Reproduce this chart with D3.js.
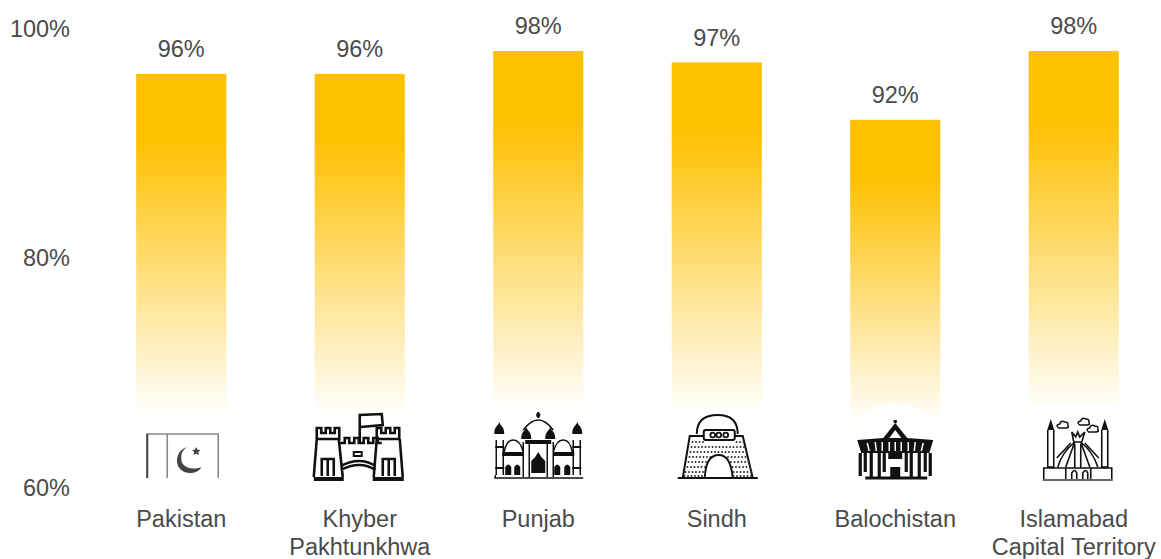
<!DOCTYPE html>
<html>
<head>
<meta charset="utf-8">
<script src="https://cdnjs.cloudflare.com/ajax/libs/d3/7.8.5/d3.min.js"></script>
<style>
html, body { margin: 0; padding: 0; background: #fff; }
svg { display: block; }
text { font-family: "Liberation Sans", Arial, sans-serif; font-size: 23.5px; fill: #4a4a4a; }
.ico { fill: none; stroke: #111; stroke-width: 2; }
.fil { fill: #111; stroke: none; }
</style>
</head>
<body>
<div id="chart"></div>
<script>
var regions = ["Pakistan", "Khyber Pakhtunkhwa", "Punjab", "Sindh", "Balochistan", "Islamabad Capital Territory"];
var values = [96, 96, 98, 97, 92, 98];
var yTicks = [60, 80, 100];
var labelLines = [["Pakistan"], ["Khyber", "Pakhtunkhwa"], ["Punjab"], ["Sindh"], ["Balochistan"], ["Islamabad", "Capital Territory"]];

var width = 1161, height = 559;
// top edge of the white box behind each icon
var iconTop = [413, 413, 407, 408, 422, 405];

var svg = d3.select("#chart").append("svg")
  .attr("width", width)
  .attr("height", height);

var x = d3.scaleBand().domain(regions).range([92, 1163]).paddingInner(0.495).paddingOuter(0.2475);
var y = d3.scaleLinear().domain([60, 100]).range([487, 28]);

var grad = svg.append("defs").append("linearGradient")
  .attr("id", "fade")
  .attr("x1", 0).attr("y1", 0).attr("x2", 0).attr("y2", 1);
grad.append("stop").attr("offset", "0.16").attr("stop-color", "#ffc000");
grad.append("stop").attr("offset", "0.83").attr("stop-color", "#ffffff");

// bars
svg.selectAll("rect.bar")
  .data(values)
  .enter()
  .append("rect")
  .attr("class", "bar")
  .attr("x", function(d, i) { return x(regions[i]); })
  .attr("y", function(d) { return y(d); })
  .attr("width", x.bandwidth())
  .attr("height", function(d) { return y(60) - y(d); })
  .attr("fill", "url(#fade)");

// value labels
svg.selectAll("text.val")
  .data(values)
  .enter()
  .append("text")
  .attr("class", "val")
  .attr("x", function(d, i) { return x(regions[i]) + x.bandwidth() / 2; })
  .attr("y", function(d) { return y(d) - 16.5; })
  .attr("text-anchor", "middle")
  .text(function(d) { return d + "%"; });

// y axis labels only
var yAxis = d3.axisLeft(y).tickValues(yTicks).tickSize(0).tickPadding(0).tickFormat(function(d) { return d + "%"; });
var yG = svg.append("g").attr("transform", "translate(70,0.5)").call(yAxis);
yG.select(".domain").remove();
yG.attr("font-family", null).attr("font-size", null);

// category labels
var cat = svg.selectAll("text.cat")
  .data(labelLines)
  .enter()
  .append("text")
  .attr("class", "cat")
  .attr("text-anchor", "middle")
  .attr("transform", function(d, i) { return "translate(" + (x(regions[i]) + x.bandwidth() / 2) + ",527)"; });
cat.selectAll("tspan")
  .data(function(d) { return d; })
  .enter()
  .append("tspan")
  .attr("x", 0)
  .attr("dy", function(d, i) { return i ? 28 : 0; })
  .text(function(d) { return d; });

// icons sit in white boxes over the faded bottom of the bars
var icons = svg.selectAll("g.icon")
  .data(regions)
  .enter()
  .append("g")
  .attr("class", "icon")
  .attr("transform", function(d) { return "translate(" + (x(d) + x.bandwidth() / 2) + ",480)"; });

icons.append("rect")
  .attr("x", -48)
  .attr("y", function(d, i) { return iconTop[i] - 480; })
  .attr("width", 96)
  .attr("height", function(d, i) { return 490 - iconTop[i]; })
  .attr("fill", "#fff");

var ic = icons.nodes().map(function(n) { return d3.select(n); });

// flag
ic[0].append("path").attr("class", "ico").style("stroke", "#888").style("stroke-width", 1.6)
  .attr("d", "M-34,-2 V-46 H37 V-2 M-14,-46 V-2");
ic[0].append("path").attr("class", "ico").style("stroke", "#444").attr("d", "M-34,-46 V-2");
ic[0].append("path").attr("class", "fil").style("fill", "#444")
  .attr("d", "M6,-33 C-8,-29 -8,-8 8,-7 C14,-7 18,-9 20,-13 C10,-9 -1,-13 0,-23 C0,-28 3,-31 6,-33 Z");
ic[0].append("path").attr("class", "fil").style("fill", "#444")
  .attr("d", "M15,-33 l1.3,2.8 3,.3 -2.2,2 .6,3 -2.7,-1.5 -2.7,1.5 .6,-3 -2.2,-2 3,-.3 Z");

// fort
var fort = ic[1].append("g");
fort.append("path").attr("class", "ico").style("stroke-width", 2.6)
  .attr("d", "M-43,-41 V-52 h4.5 v5 h4.5 v-5 h4.5 v5 h4.5 v-5 h4.5 V-41 Z M-43,-41 L-46,-3 M-21,-41 L-17,-3"
    + " M17,-41 V-52 h4.5 v5 h4.5 v-5 h4.5 v5 h4.5 v-5 h4.5 V-41 Z M17,-41 L14,-3 M40,-41 L43,-3"
    + " M-20,-37 h5 v-5 h4.5 v5 h5 v-5 h4.5 v5 h5 v-5 h4.5 v5 h5 v-5 h4.5 v5 h4"
    + " M-19,-14 Q0,-24 16,-14 M-19,-10 Q0,-20 16,-10"
    + " M-38,-4 V-21 H-26 V-4 M-32,-21 V-4 M23,-4 V-21 H35 V-4 M29,-21 V-4");
fort.append("path").attr("class", "ico").style("stroke-width", 3.8)
  .attr("d", "M-46,-1 H-16 M13,-1 H44");
fort.append("rect").attr("class", "ico").attr("x", -6).attr("y", -28).attr("width", 8).attr("height", 4);
fort.append("path").attr("class", "ico").style("stroke-width", 2.6)
  .attr("d", "M0,-38 V-65 L22,-66 L23,-55 L1,-53");

// badshahi mosque
var mosque = ic[2].append("g");
mosque.append("path").attr("class", "ico").style("stroke-width", 1.5)
  .attr("d", "M-44,-2 H45 M-43,-5 V-2 M-42,-40 V-5 M-35,-40 V-5 M35,-40 V-5 M42,-40 V-5 M-15,-38 V-3 M-9,-36 V-3 M9,-36 V-3 M15,-38 V-3"
    + " M-15,-50 Q0,-70 15,-50 M-34,-28 Q-32,-40 -25,-40 Q-18,-40 -15,-28 M15,-28 Q18,-40 25,-40 Q32,-40 34,-28");
mosque.append("path").attr("class", "ico").style("stroke-width", 2).attr("d", "M0,-68 V-62");
mosque.append("circle").attr("class", "fil").attr("cy", -65).attr("r", 2.2);
mosque.selectAll("path.mina").data([-39, 39, -12, 12]).enter().append("path").attr("class", "fil")
  .attr("d", function(d, i) {
    var top = i < 2 ? -58 : -53;
    return "M" + (d - 5) + "," + (top + 12) + " C" + (d - 5) + "," + (top + 4) + " " + (d - 1) + "," + (top + 4) + " " + d + "," + top
      + " C" + (d + 1) + "," + (top + 4) + " " + (d + 5) + "," + (top + 4) + " " + (d + 5) + "," + (top + 12) + " Z";
  });
mosque.append("path").attr("class", "fil")
  .attr("d", "M-7,-7 V-19 Q-3,-22 0,-28 Q3,-22 7,-19 V-7 Z M-36,-24 H-15 V-28 H-36 Z M15,-24 H36 V-28 H15 Z M-13,-36 H13 V-40 H-13 Z"
    + " M-33,-5 V-13 Q-30,-18 -27,-13 V-5 Z M-24,-5 V-13 Q-21,-18 -18,-13 V-5 Z M16,-5 V-13 Q19,-18 22,-13 V-5 Z M26,-5 V-13 Q29,-18 32,-13 V-5 Z"
    + " M-43,-13 H-34 V-11 H-43 Z M34,-13 H43 V-11 H34 Z M-43,-34 H-34 V-32 H-43 Z M34,-34 H43 V-32 H34 Z");

// mazar-e-quaid
var mazar = ic[3].append("g");
mazar.append("path").attr("class", "ico")
  .attr("d", "M-39,-2 H41 M-34,-2 L-27,-44 H26 L36,-2 M-20,-46 Q-20,-65 1,-65 Q21,-65 21,-46");
mazar.append("path").attr("class", "ico").style("stroke", "#333").style("stroke-dasharray", "1.5,2")
  .attr("d", "M-25,-38 H-13 M19,-38 H29 M-26,-33 H30 M-27,-28 H31 M-28,-23 H32 M-29,-18 H-6 M10,-18 H33 M-30,-13 H-11 M15,-13 H34 M-32,-8 H-13 M16,-8 H35 M-33,-4 H-13 M16,-4 H36");
mazar.append("path").attr("d", "M-12,-2 Q-11,-25 2,-25 Q14,-25 16,-2 Z").attr("fill", "#fff").attr("stroke", "#111").attr("stroke-width", 2);
mazar.append("rect").attr("x", -13).attr("y", -50).attr("width", 31).attr("height", 10).attr("rx", 2)
  .attr("fill", "#fff").attr("stroke", "#111").attr("stroke-width", 2);
mazar.selectAll("circle").data([-5, 1, 8]).enter().append("circle")
  .attr("cx", function(d) { return d + 1; }).attr("cy", -45).attr("r", 2.4)
  .attr("fill", "none").attr("stroke", "#111").attr("stroke-width", 1.8);

// quetta building, white arc rises into the bar
var quetta = ic[4].append("g");
quetta.append("path").attr("d", "M-41,-58 C-30,-68 -16,-77 0,-77 C16,-77 30,-68 41,-58 Z").attr("fill", "#fff");
quetta.append("path").attr("class", "fil")
  .attr("d", "M-38,-40 L-12,-42 L0,-57 L12,-42 L38,-40 L34,-27 L-34,-27 Z");
quetta.append("path").attr("d", "M-6,-42 L0,-50 L6,-42 Z").attr("fill", "#fff");
quetta.append("path").attr("class", "ico").style("stroke-width", 1.5).style("stroke", "#fff")
  .attr("d", "M-28,-37 L-26,-29 M-20,-38 L-19,-29 M-13,-38 V-29 M-6,-38 V-29 M0,-38 V-29 M6,-38 V-29 M13,-38 V-29 M20,-38 L19,-29 M28,-37 L26,-29");
quetta.append("path").attr("class", "ico").style("stroke-width", 3.2)
  .attr("d", "M-35,-27 V-4 M-30,-27 V-8 M-24,-27 V-3 M-16,-27 V-3 M-11,-27 V-8 M11,-27 V-8 M16,-27 V-3 M24,-27 V-3 M30,-27 V-8 M35,-27 V-4 M-30,-2 H32 M0,-57 V-60");
quetta.append("path").attr("class", "fil").attr("d", "M-7,-27 H7 V-21 H-7 Z M-5,-13 H5 V-3 H-5 Z");

// faisal mosque
var faisal = ic[5].append("g");
faisal.append("path").attr("class", "ico").style("stroke-width", 1.6)
  .attr("d", "M-30,-1 V-12 H38 V-1 M-8,-1 V-12 M17,-1 V-12 M-26,-12 V-50 M-20,-12 V-50 M28,-12 V-50 M34,-12 V-50 M-26,-13 H-20 M28,-13 H34"
    + " M-16,-13 C-12,-26 -5,-33 0,-37 M24,-13 C20,-26 13,-33 8,-37 M-8,-13 L1,-38 M16,-13 L7,-38 M1,-12 V-36 M7,-12 V-36"
    + " M-17,-22 L-3,-37 M25,-22 L11,-37"
    + " M-2,-48 L0,-38 H8 L11,-48 L6,-43 L4,-48 L2,-43 Z M-2,-1 V-7 Q1,-12 3,-7 V-1 M9,-1 V-7 Q12,-12 14,-7 V-1");
faisal.append("path").attr("class", "ico").style("stroke", "#666").attr("d", "M-31,0 H39");
faisal.selectAll("path.cloud").data([[-11, -55], [10, -58], [19, -51]]).enter().append("path")
  .attr("class", "ico").style("stroke-width", 1.5)
  .attr("transform", function(d) { return "translate(" + d[0] + "," + d[1] + ")"; })
  .attr("d", "M-4,3 Q-8,0 -3,-1 Q-2,-5 2,-3 Q6,-3 5,0 Q7,3 3,3 Z");
faisal.selectAll("path.spire").data([-23, 31]).enter().append("path").attr("class", "fil")
  .attr("d", function(d) { return "M" + (d - 3.5) + ",-50 L" + d + ",-61 L" + (d + 3.5) + ",-50 Z"; });
</script>
</body>
</html>
